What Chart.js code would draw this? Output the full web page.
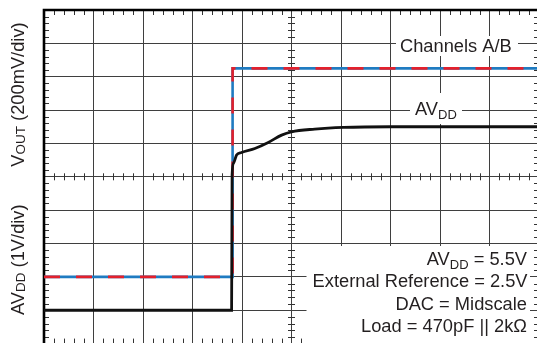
<!DOCTYPE html>
<html>
<head>
<meta charset="utf-8">
<script src="https://cdn.jsdelivr.net/npm/chart.js@4.4.1/dist/chart.umd.min.js"></script>
<style>
  html, body { margin: 0; padding: 0; overflow: hidden; background: #fff; }
  #wrap { width: 541px; height: 348px; }
</style>
</head>
<body>
<div id="wrap"><canvas id="scope" width="541" height="348"></canvas></div>
<script>
// screen is 10 x 10 divisions, time and level both in divisions
const chTime = [0, 3.81, 3.81, 10];
const chLevel = [2.0, 2.0, 8.25, 8.25];
const avddTime = [0, 3.79, 3.80, 3.83, 3.89, 3.99, 4.26, 4.53, 4.80, 5.00, 5.47, 6.05, 7.0, 10];
const avddLevel = [1.0, 1.0, 5.05, 5.41, 5.65, 5.73, 5.85, 6.03, 6.25, 6.35, 6.43, 6.48, 6.50, 6.50];
const divisions = [0, 1, 2, 3, 4, 5, 6, 7, 8, 9, 10];

const INK = '#231f20';
const FONT = '"Liberation Sans", Arial, Helvetica, sans-serif';

function pts(xs, ys) {
    return xs.map((x, i) => ({ x: x, y: ys[i] }));
}

// draws pieces like [['AV', 0], ['DD', 1]] ; sub pieces smaller and lowered
function drawPieces(ctx, pieces, x, y, opt) {
    const big = opt.size, small = opt.subSize, drop = opt.drop;
    let total = 0;
    pieces.forEach(p => {
        ctx.font = (p[1] ? small : big) + 'px ' + FONT;
        total += ctx.measureText(p[0]).width;
    });
    let cx = opt.align === 'right' ? x - total : x;
    pieces.forEach(p => {
        ctx.font = (p[1] ? small : big) + 'px ' + FONT;
        ctx.fillText(p[0], cx, y + (p[1] ? drop : 0));
        cx += ctx.measureText(p[0]).width;
    });
}

function whiteBox(ctx, x1, y1, x2, y2) {
    ctx.fillStyle = '#fff';
    ctx.fillRect(x1, y1, x2 - x1, y2 - y1);
}

const scopeDecor = {
    id: 'scopeDecor',
    beforeDatasetsDraw(chart) {
        const ctx = chart.ctx;
        const xs = chart.scales.x, ys = chart.scales.y;
        const L = xs.left, R = xs.right, T = ys.top, B = ys.bottom;
        const xc = xs.getPixelForValue(5), yc = ys.getPixelForValue(5);
        ctx.save();

        // minor ticks, 5 per division
        ctx.strokeStyle = '#333';
        ctx.lineWidth = 1;
        ctx.beginPath();
        for (let i = 1; i < 50; i++) {
            if (i % 5 === 0) continue;
            const px = Math.round(xs.getPixelForValue(i / 5)) + 0.5;
            ctx.moveTo(px, T); ctx.lineTo(px, T + 5);
            ctx.moveTo(px, B - 5); ctx.lineTo(px, B);
            ctx.moveTo(px, yc - 3.5); ctx.lineTo(px, yc + 3.5);
            const py = Math.round(ys.getPixelForValue(i / 5)) + 0.5;
            ctx.moveTo(L, py); ctx.lineTo(L + 5, py);
            ctx.moveTo(R - 5, py); ctx.lineTo(R, py);
            ctx.moveTo(xc - 3.5, py); ctx.lineTo(xc + 3.5, py);
        }
        ctx.stroke();

        // heavy frame on left and top
        ctx.strokeStyle = '#000';
        ctx.lineWidth = 2.6;
        ctx.beginPath();
        ctx.moveTo(L, B + 4); ctx.lineTo(L, T); ctx.lineTo(R + 4, T);
        ctx.stroke();

        // labels
        ctx.textBaseline = 'alphabetic';
        whiteBox(ctx, 396, 36, 518, 56);
        ctx.fillStyle = INK;
        drawPieces(ctx, [['Channels A/B', 0]], 400, 51.5, { size: 18.3, subSize: 13, drop: 4 });

        whiteBox(ctx, 410, 93, 462, 124);
        ctx.fillStyle = INK;
        drawPieces(ctx, [['AV', 0], ['DD', 1]], 415, 115, { size: 18.3, subSize: 13, drop: 4.3 });

        whiteBox(ctx, 306.5, 246, 530, 348);
        ctx.fillStyle = INK;
        const o = { size: 18.3, subSize: 13, drop: 4, align: 'right' };
        drawPieces(ctx, [['AV', 0], ['DD', 1], [' = 5.5V', 0]], 527, 265, o);
        drawPieces(ctx, [['External Reference = 2.5V', 0]], 527.5, 287, o);
        drawPieces(ctx, [['DAC = Midscale', 0]], 527, 309.7, o);
        drawPieces(ctx, [['Load = 470pF || 2k\u03A9', 0]], 527, 332.3, o);

        // vertical axis titles
        ctx.save();
        ctx.translate(24.3, 166.7);
        ctx.rotate(-Math.PI / 2);
        drawPieces(ctx, [['V', 0], ['OUT', 1], [' (200mV/div)', 0]], 0, 0, { size: 18.3, subSize: 13.5, drop: 1 });
        ctx.restore();
        ctx.save();
        ctx.translate(24.3, 315);
        ctx.rotate(-Math.PI / 2);
        drawPieces(ctx, [['AV', 0], ['DD', 1], [' (1V/div)', 0]], 0, 0, { size: 18.3, subSize: 13.5, drop: 1 });
        ctx.restore();

        ctx.restore();
    }
};

const gridColor = c => (c.tick.value > 0 && c.tick.value < 10) ? '#3f3f3f' : 'rgba(0,0,0,0)';

new Chart(document.getElementById('scope').getContext('2d'), {
    type: 'line',
    data: {
        datasets: [
            {
                label: 'AVDD',
                data: pts(avddTime, avddLevel),
                borderColor: '#111',
                borderWidth: 2.8,
                cubicInterpolationMode: 'monotone',
                pointRadius: 0,
                order: 0
            },
            {
                label: 'Channel A',
                data: pts(chTime, chLevel),
                borderColor: '#e3202c',
                borderWidth: 2.6,
                borderDash: [16, 16],
                pointRadius: 0,
                tension: 0,
                order: 1
            },
            {
                label: 'Channel B',
                data: pts(chTime, chLevel),
                borderColor: '#1f7bc1',
                borderWidth: 2.6,
                pointRadius: 0,
                tension: 0,
                order: 2
            }
        ]
    },
    options: {
        responsive: false,
        animation: false,
        events: [],
        layout: { padding: { left: 44, top: 10, right: 2, bottom: 4.4 } },
        plugins: {
            legend: { display: false },
            tooltip: { enabled: false }
        },
        scales: {
            x: {
                type: 'linear',
                min: 0, max: 10,
                afterBuildTicks: s => { s.ticks = divisions.map(v => ({ value: v })); },
                ticks: { display: false },
                grid: { color: gridColor, lineWidth: 1, drawTicks: false },
                border: { display: false }
            },
            y: {
                type: 'linear',
                min: 0, max: 10,
                afterBuildTicks: s => { s.ticks = divisions.map(v => ({ value: v })); },
                ticks: { display: false },
                grid: { color: gridColor, lineWidth: 1, drawTicks: false },
                border: { display: false }
            }
        }
    },
    plugins: [scopeDecor]
});
</script>
</body>
</html>
